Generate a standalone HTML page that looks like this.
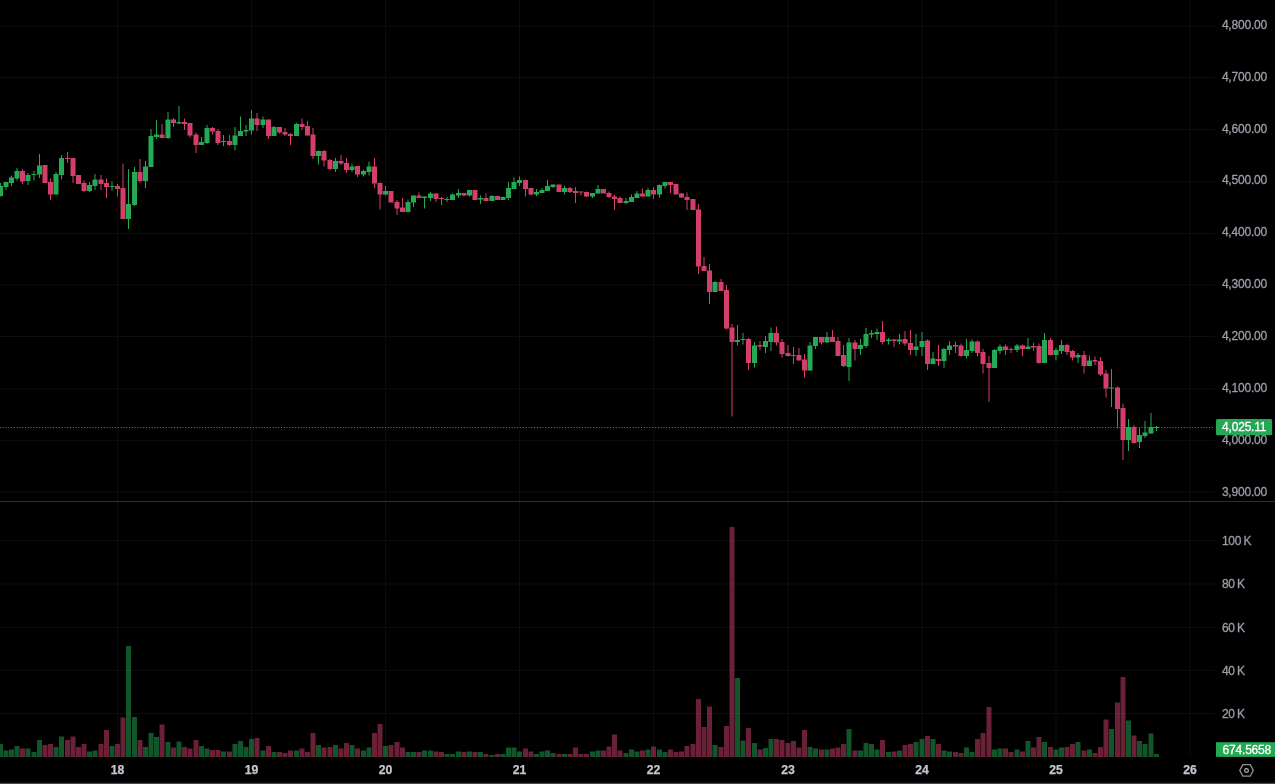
<!DOCTYPE html>
<html lang="en"><head><meta charset="utf-8"><title>Chart</title>
<style>
html,body{margin:0;padding:0;background:#000;overflow:hidden}
svg{display:block}
text{font-family:"Liberation Sans",sans-serif}
.ax{font-size:12px;letter-spacing:-0.2px;fill:#9b9ea8;stroke:#9b9ea8;stroke-width:.3px}
.tm{font-size:12.2px;font-weight:bold;fill:#c4c7cf;stroke:#c4c7cf;stroke-width:.25px}
.lb{font-size:12px;letter-spacing:-0.2px;fill:#fff;stroke:#fff;stroke-width:.3px}
</style></head>
<body>
<svg width="1275" height="784" viewBox="0 0 1275 784">
<rect width="1275" height="784" fill="#000"/>
<g fill="#0e0e0e">
<rect x="0" y="25.8" width="1215" height="1"/>
<rect x="0" y="76.96" width="1215" height="1"/>
<rect x="0" y="128.84" width="1215" height="1"/>
<rect x="0" y="181.28" width="1215" height="1"/>
<rect x="0" y="232.84" width="1215" height="1"/>
<rect x="0" y="284.34" width="1215" height="1"/>
<rect x="0" y="336" width="1215" height="1"/>
<rect x="0" y="388.34" width="1215" height="1"/>
<rect x="0" y="439.9" width="1215" height="1"/>
<rect x="0" y="491.7" width="1215" height="1"/>
<rect x="0" y="540.2" width="1215" height="1"/>
<rect x="0" y="583.46" width="1215" height="1"/>
<rect x="0" y="626.8" width="1215" height="1"/>
<rect x="0" y="669.8" width="1215" height="1"/>
<rect x="0" y="712.9" width="1215" height="1"/>
</g>
<g fill="#0c0c0c">
<rect x="117" y="0" width="1" height="757"/>
<rect x="251" y="0" width="1" height="757"/>
<rect x="385" y="0" width="1" height="757"/>
<rect x="519" y="0" width="1" height="757"/>
<rect x="653" y="0" width="1" height="757"/>
<rect x="787.5" y="0" width="1" height="757"/>
<rect x="921.5" y="0" width="1" height="757"/>
<rect x="1055.5" y="0" width="1" height="757"/>
<rect x="1189.5" y="0" width="1" height="757"/>
</g>
<rect x="0" y="501" width="1275" height="1" fill="#2a2e39"/>
<g fill="#25a954" fill-opacity="0.5">
<rect x="-2" y="744" width="5" height="13"/>
<rect x="3.5" y="750.5" width="5" height="6.5"/>
<rect x="9" y="749.5" width="5" height="7.5"/>
<rect x="14.5" y="746" width="5" height="11"/>
<rect x="25.5" y="748.5" width="5" height="8.5"/>
<rect x="31.5" y="752" width="5" height="5"/>
<rect x="37" y="740" width="5" height="17"/>
<rect x="53.5" y="747" width="5" height="10"/>
<rect x="59" y="736.5" width="5" height="20.5"/>
<rect x="87" y="751.5" width="5" height="5.5"/>
<rect x="92.5" y="750.5" width="5" height="6.5"/>
<rect x="109.5" y="746" width="5" height="11"/>
<rect x="126" y="646" width="5" height="111"/>
<rect x="132" y="717" width="5" height="40"/>
<rect x="143" y="747" width="5" height="10"/>
<rect x="148.5" y="733" width="5" height="24"/>
<rect x="154" y="737" width="5" height="20"/>
<rect x="165.5" y="742" width="5" height="15"/>
<rect x="176.5" y="741.5" width="5" height="15.5"/>
<rect x="199" y="746" width="5" height="11"/>
<rect x="204.5" y="748.5" width="5" height="8.5"/>
<rect x="221" y="751.5" width="5" height="5.5"/>
<rect x="232.5" y="744" width="5" height="13"/>
<rect x="238" y="741" width="5" height="16"/>
<rect x="243.5" y="747" width="5" height="10"/>
<rect x="249" y="739" width="5" height="18"/>
<rect x="260.5" y="750.5" width="5" height="6.5"/>
<rect x="271.5" y="752" width="5" height="5"/>
<rect x="294" y="750.5" width="5" height="6.5"/>
<rect x="316" y="745" width="5" height="12"/>
<rect x="333" y="745" width="5" height="12"/>
<rect x="349.5" y="745" width="5" height="12"/>
<rect x="361" y="750.5" width="5" height="6.5"/>
<rect x="366.5" y="747.5" width="5" height="9.5"/>
<rect x="383" y="746" width="5" height="11"/>
<rect x="405.5" y="752" width="5" height="5"/>
<rect x="411" y="752" width="5" height="5"/>
<rect x="422" y="750.5" width="5" height="6.5"/>
<rect x="428" y="750.5" width="5" height="6.5"/>
<rect x="444.5" y="754" width="5" height="3"/>
<rect x="450" y="754" width="5" height="3"/>
<rect x="456" y="751.5" width="5" height="5.5"/>
<rect x="467" y="751.5" width="5" height="5.5"/>
<rect x="478" y="752" width="5" height="5"/>
<rect x="489.5" y="755" width="5" height="2"/>
<rect x="500.5" y="754" width="5" height="3"/>
<rect x="506" y="747.5" width="5" height="9.5"/>
<rect x="511.5" y="747.5" width="5" height="9.5"/>
<rect x="517" y="751.5" width="5" height="5.5"/>
<rect x="534" y="754" width="5" height="3"/>
<rect x="539.5" y="751.5" width="5" height="5.5"/>
<rect x="545" y="750.5" width="5" height="6.5"/>
<rect x="550.5" y="753" width="5" height="4"/>
<rect x="562" y="754" width="5" height="3"/>
<rect x="590" y="751.5" width="5" height="5.5"/>
<rect x="595.5" y="750.5" width="5" height="6.5"/>
<rect x="623.5" y="753" width="5" height="4"/>
<rect x="629" y="749.5" width="5" height="7.5"/>
<rect x="634.5" y="751.5" width="5" height="5.5"/>
<rect x="645.5" y="749.5" width="5" height="7.5"/>
<rect x="657" y="749.5" width="5" height="7.5"/>
<rect x="662.5" y="752" width="5" height="5"/>
<rect x="712.5" y="745" width="5" height="12"/>
<rect x="735" y="678" width="5" height="79"/>
<rect x="740.5" y="740.5" width="5" height="16.5"/>
<rect x="752" y="743" width="5" height="14"/>
<rect x="763" y="748" width="5" height="9"/>
<rect x="768.5" y="739" width="5" height="18"/>
<rect x="807.5" y="747" width="5" height="10"/>
<rect x="813" y="748.5" width="5" height="8.5"/>
<rect x="824.5" y="749.5" width="5" height="7.5"/>
<rect x="846.5" y="729" width="5" height="28"/>
<rect x="858" y="750.5" width="5" height="6.5"/>
<rect x="863.5" y="743" width="5" height="14"/>
<rect x="869" y="744" width="5" height="13"/>
<rect x="874.5" y="749.5" width="5" height="7.5"/>
<rect x="886" y="752" width="5" height="5"/>
<rect x="897" y="750.5" width="5" height="6.5"/>
<rect x="913.5" y="742" width="5" height="15"/>
<rect x="919.5" y="739" width="5" height="18"/>
<rect x="930.5" y="739" width="5" height="18"/>
<rect x="941.5" y="750.5" width="5" height="6.5"/>
<rect x="947" y="751.5" width="5" height="5.5"/>
<rect x="964" y="747.5" width="5" height="9.5"/>
<rect x="969.5" y="752" width="5" height="5"/>
<rect x="992" y="749.5" width="5" height="7.5"/>
<rect x="997.5" y="748.5" width="5" height="8.5"/>
<rect x="1014.5" y="749.5" width="5" height="7.5"/>
<rect x="1025.5" y="741" width="5" height="16"/>
<rect x="1042" y="742" width="5" height="15"/>
<rect x="1053.5" y="749.5" width="5" height="7.5"/>
<rect x="1059" y="747.5" width="5" height="9.5"/>
<rect x="1075.5" y="742" width="5" height="15"/>
<rect x="1087" y="749.5" width="5" height="7.5"/>
<rect x="1109" y="729" width="5" height="28"/>
<rect x="1126" y="720.5" width="5" height="36.5"/>
<rect x="1137" y="741" width="5" height="16"/>
<rect x="1142.5" y="744" width="5" height="13"/>
<rect x="1148.5" y="733.5" width="5" height="23.5"/>
<rect x="1154" y="754" width="5" height="3"/>
</g>
<g fill="#d33f6b" fill-opacity="0.5">
<rect x="20" y="748.5" width="5" height="8.5"/>
<rect x="42.5" y="745" width="5" height="12"/>
<rect x="48" y="744" width="5" height="13"/>
<rect x="65" y="740" width="5" height="17"/>
<rect x="70.5" y="736.5" width="5" height="20.5"/>
<rect x="76" y="747" width="5" height="10"/>
<rect x="81.5" y="744" width="5" height="13"/>
<rect x="98.5" y="744" width="5" height="13"/>
<rect x="104" y="730" width="5" height="27"/>
<rect x="115" y="744" width="5" height="13"/>
<rect x="120.5" y="717.5" width="5" height="39.5"/>
<rect x="137.5" y="740" width="5" height="17"/>
<rect x="159.5" y="724.5" width="5" height="32.5"/>
<rect x="171" y="747.5" width="5" height="9.5"/>
<rect x="182" y="747" width="5" height="10"/>
<rect x="187.5" y="748.5" width="5" height="8.5"/>
<rect x="193.5" y="740" width="5" height="17"/>
<rect x="210" y="750" width="5" height="7"/>
<rect x="215.5" y="750" width="5" height="7"/>
<rect x="227" y="751.5" width="5" height="5.5"/>
<rect x="254.5" y="738" width="5" height="19"/>
<rect x="266" y="746" width="5" height="11"/>
<rect x="277" y="752" width="5" height="5"/>
<rect x="282.5" y="753" width="5" height="4"/>
<rect x="288" y="750.5" width="5" height="6.5"/>
<rect x="299.5" y="748.5" width="5" height="8.5"/>
<rect x="305" y="752" width="5" height="5"/>
<rect x="310.5" y="733" width="5" height="24"/>
<rect x="321.5" y="747.5" width="5" height="9.5"/>
<rect x="327.5" y="747" width="5" height="10"/>
<rect x="338.5" y="748.5" width="5" height="8.5"/>
<rect x="344" y="743" width="5" height="14"/>
<rect x="355" y="748.5" width="5" height="8.5"/>
<rect x="372" y="733" width="5" height="24"/>
<rect x="377.5" y="724" width="5" height="33"/>
<rect x="388.5" y="745" width="5" height="12"/>
<rect x="394.5" y="742" width="5" height="15"/>
<rect x="400" y="747.5" width="5" height="9.5"/>
<rect x="416.5" y="752" width="5" height="5"/>
<rect x="433.5" y="751.5" width="5" height="5.5"/>
<rect x="439" y="752" width="5" height="5"/>
<rect x="461.5" y="752" width="5" height="5"/>
<rect x="472.5" y="752" width="5" height="5"/>
<rect x="483.5" y="754" width="5" height="3"/>
<rect x="495" y="754" width="5" height="3"/>
<rect x="523" y="748.5" width="5" height="8.5"/>
<rect x="528.5" y="751.5" width="5" height="5.5"/>
<rect x="556.5" y="754" width="5" height="3"/>
<rect x="567.5" y="754" width="5" height="3"/>
<rect x="573" y="747.5" width="5" height="9.5"/>
<rect x="578.5" y="754" width="5" height="3"/>
<rect x="584" y="754" width="5" height="3"/>
<rect x="601" y="750.5" width="5" height="6.5"/>
<rect x="606.5" y="746.5" width="5" height="10.5"/>
<rect x="612" y="734.5" width="5" height="22.5"/>
<rect x="617.5" y="750.5" width="5" height="6.5"/>
<rect x="640" y="750.5" width="5" height="6.5"/>
<rect x="651" y="746.5" width="5" height="10.5"/>
<rect x="668" y="749.5" width="5" height="7.5"/>
<rect x="673.5" y="752" width="5" height="5"/>
<rect x="679" y="751.5" width="5" height="5.5"/>
<rect x="684.5" y="746" width="5" height="11"/>
<rect x="690.5" y="744" width="5" height="13"/>
<rect x="696" y="699" width="5" height="58"/>
<rect x="701.5" y="727" width="5" height="30"/>
<rect x="707" y="706.5" width="5" height="50.5"/>
<rect x="718.5" y="747" width="5" height="10"/>
<rect x="724" y="726" width="5" height="31"/>
<rect x="729.5" y="527" width="5" height="230"/>
<rect x="746" y="728" width="5" height="29"/>
<rect x="757.5" y="749.5" width="5" height="7.5"/>
<rect x="774" y="739" width="5" height="18"/>
<rect x="779.5" y="740" width="5" height="17"/>
<rect x="785.5" y="743" width="5" height="14"/>
<rect x="791" y="741" width="5" height="16"/>
<rect x="796.5" y="747.5" width="5" height="9.5"/>
<rect x="802" y="730" width="5" height="27"/>
<rect x="819" y="749.5" width="5" height="7.5"/>
<rect x="830" y="748.5" width="5" height="8.5"/>
<rect x="835.5" y="747.5" width="5" height="9.5"/>
<rect x="841" y="744" width="5" height="13"/>
<rect x="852.5" y="750.5" width="5" height="6.5"/>
<rect x="880" y="740" width="5" height="17"/>
<rect x="891.5" y="751.5" width="5" height="5.5"/>
<rect x="902.5" y="745" width="5" height="12"/>
<rect x="908" y="744" width="5" height="13"/>
<rect x="925" y="736" width="5" height="21"/>
<rect x="936" y="744" width="5" height="13"/>
<rect x="953" y="752" width="5" height="5"/>
<rect x="958.5" y="753" width="5" height="4"/>
<rect x="975" y="739" width="5" height="18"/>
<rect x="980.5" y="733" width="5" height="24"/>
<rect x="986.5" y="707" width="5" height="50"/>
<rect x="1003" y="748.5" width="5" height="8.5"/>
<rect x="1008.5" y="752" width="5" height="5"/>
<rect x="1020" y="751.5" width="5" height="5.5"/>
<rect x="1031" y="747.5" width="5" height="9.5"/>
<rect x="1036.5" y="737" width="5" height="20"/>
<rect x="1048" y="747" width="5" height="10"/>
<rect x="1064.5" y="747" width="5" height="10"/>
<rect x="1070" y="744" width="5" height="13"/>
<rect x="1081.5" y="750.5" width="5" height="6.5"/>
<rect x="1092.5" y="753" width="5" height="4"/>
<rect x="1098" y="747" width="5" height="10"/>
<rect x="1103.5" y="719.5" width="5" height="37.5"/>
<rect x="1115" y="702.5" width="5" height="54.5"/>
<rect x="1120.5" y="677" width="5" height="80"/>
<rect x="1131.5" y="735.5" width="5" height="21.5"/>
</g>
<g fill="#25a954">
<rect x="0" y="183" width="1" height="13.5"/><rect x="-2" y="186" width="5" height="10"/>
<rect x="5.5" y="182" width="1" height="8"/><rect x="3.5" y="182" width="5" height="5"/>
<rect x="11" y="175.5" width="1" height="10.5"/><rect x="9" y="177.5" width="5" height="5.5"/>
<rect x="16.5" y="168" width="1" height="12.5"/><rect x="14.5" y="171" width="5" height="7.5"/>
<rect x="27.5" y="173" width="1" height="12"/><rect x="25.5" y="175" width="5" height="6"/>
<rect x="33.5" y="171" width="1" height="9.5"/><rect x="31.5" y="174" width="5" height="1"/>
<rect x="39" y="154" width="1" height="24"/><rect x="37" y="165.5" width="5" height="9"/>
<rect x="55.5" y="172" width="1" height="22.5"/><rect x="53.5" y="174" width="5" height="20.5"/>
<rect x="61" y="155" width="1" height="24.5"/><rect x="59" y="158" width="5" height="17"/>
<rect x="89" y="182" width="1" height="10"/><rect x="87" y="185" width="5" height="6"/>
<rect x="94.5" y="174" width="1" height="16"/><rect x="92.5" y="179.5" width="5" height="6.5"/>
<rect x="111.5" y="181.5" width="1" height="9.5"/><rect x="109.5" y="186" width="5" height="1"/>
<rect x="128" y="169" width="1" height="60"/><rect x="126" y="204" width="5" height="15"/>
<rect x="134" y="167" width="1" height="39"/><rect x="132" y="172" width="5" height="33"/>
<rect x="145" y="161" width="1" height="27"/><rect x="143" y="166.5" width="5" height="14.5"/>
<rect x="150.5" y="129" width="1" height="38"/><rect x="148.5" y="136" width="5" height="31"/>
<rect x="156" y="120" width="1" height="19"/><rect x="154" y="134.5" width="5" height="2.5"/>
<rect x="167.5" y="112" width="1" height="27"/><rect x="165.5" y="119.5" width="5" height="18.5"/>
<rect x="178.5" y="106" width="1" height="18"/><rect x="176.5" y="122" width="5" height="1.5"/>
<rect x="201" y="137" width="1" height="8"/><rect x="199" y="142" width="5" height="3"/>
<rect x="206.5" y="125" width="1" height="19"/><rect x="204.5" y="128" width="5" height="15"/>
<rect x="223" y="135" width="1" height="11"/><rect x="221" y="141" width="5" height="1"/>
<rect x="234.5" y="127" width="1" height="23.5"/><rect x="232.5" y="135.5" width="5" height="9.5"/>
<rect x="240" y="116.5" width="1" height="19.5"/><rect x="238" y="131" width="5" height="5"/>
<rect x="245.5" y="125" width="1" height="11"/><rect x="243.5" y="130" width="5" height="1.5"/>
<rect x="251" y="110" width="1" height="24.5"/><rect x="249" y="118.5" width="5" height="12"/>
<rect x="262.5" y="116.5" width="1" height="11.5"/><rect x="260.5" y="119.5" width="5" height="5.5"/>
<rect x="273.5" y="126" width="1" height="10"/><rect x="271.5" y="127" width="5" height="9"/>
<rect x="296" y="123" width="1" height="13"/><rect x="294" y="124" width="5" height="12"/>
<rect x="318" y="150.5" width="1" height="14"/><rect x="316" y="151" width="5" height="5"/>
<rect x="335" y="158" width="1" height="14"/><rect x="333" y="161" width="5" height="8"/>
<rect x="351.5" y="163.5" width="1" height="8.5"/><rect x="349.5" y="166.5" width="5" height="3.5"/>
<rect x="363" y="169.5" width="1" height="7"/><rect x="361" y="171" width="5" height="3.5"/>
<rect x="368.5" y="161.5" width="1" height="14"/><rect x="366.5" y="166.5" width="5" height="5.5"/>
<rect x="385" y="186" width="1" height="9.5"/><rect x="383" y="191" width="5" height="3.5"/>
<rect x="407.5" y="199.5" width="1" height="13"/><rect x="405.5" y="202" width="5" height="10"/>
<rect x="413" y="195.5" width="1" height="11.5"/><rect x="411" y="195.5" width="5" height="7"/>
<rect x="424" y="196.5" width="1" height="12"/><rect x="422" y="196.5" width="5" height="1.5"/>
<rect x="430" y="192" width="1" height="9"/><rect x="428" y="193.5" width="5" height="4.5"/>
<rect x="446.5" y="197" width="1" height="5"/><rect x="444.5" y="199" width="5" height="1"/>
<rect x="452" y="193.5" width="1" height="6.5"/><rect x="450" y="194.5" width="5" height="5.5"/>
<rect x="458" y="189" width="1" height="9"/><rect x="456" y="193" width="5" height="2.5"/>
<rect x="469" y="190" width="1" height="6.5"/><rect x="467" y="190" width="5" height="5.5"/>
<rect x="480" y="195.5" width="1" height="8.5"/><rect x="478" y="198" width="5" height="1.5"/>
<rect x="491.5" y="195" width="1" height="6"/><rect x="489.5" y="196" width="5" height="5"/>
<rect x="502.5" y="196.5" width="1" height="3.5"/><rect x="500.5" y="197" width="5" height="3"/>
<rect x="508" y="182" width="1" height="18"/><rect x="506" y="188" width="5" height="10"/>
<rect x="513.5" y="177.5" width="1" height="11.5"/><rect x="511.5" y="182" width="5" height="7"/>
<rect x="519" y="176.5" width="1" height="9.5"/><rect x="517" y="180" width="5" height="3"/>
<rect x="536" y="189" width="1" height="7"/><rect x="534" y="192" width="5" height="2.5"/>
<rect x="541.5" y="188" width="1" height="5"/><rect x="539.5" y="190" width="5" height="3"/>
<rect x="547" y="180" width="1" height="11"/><rect x="545" y="186" width="5" height="5"/>
<rect x="552.5" y="184.5" width="1" height="3.5"/><rect x="550.5" y="184.5" width="5" height="2.5"/>
<rect x="564" y="186" width="1" height="8.5"/><rect x="562" y="188" width="5" height="4"/>
<rect x="592" y="193" width="1" height="5"/><rect x="590" y="193" width="5" height="3.5"/>
<rect x="597.5" y="185" width="1" height="8.5"/><rect x="595.5" y="189" width="5" height="4.5"/>
<rect x="625.5" y="198" width="1" height="6"/><rect x="623.5" y="201" width="5" height="2"/>
<rect x="631" y="194.5" width="1" height="7.5"/><rect x="629" y="197" width="5" height="5"/>
<rect x="636.5" y="191" width="1" height="7"/><rect x="634.5" y="193.5" width="5" height="4.5"/>
<rect x="647.5" y="188" width="1" height="8.5"/><rect x="645.5" y="190" width="5" height="6.5"/>
<rect x="659" y="184.5" width="1" height="13.5"/><rect x="657" y="185" width="5" height="9.5"/>
<rect x="664.5" y="182" width="1" height="6.5"/><rect x="662.5" y="182" width="5" height="4"/>
<rect x="714.5" y="281" width="1" height="11"/><rect x="712.5" y="282" width="5" height="10"/>
<rect x="737" y="325" width="1" height="20.5"/><rect x="735" y="340" width="5" height="2"/>
<rect x="742.5" y="333" width="1" height="11.5"/><rect x="740.5" y="339" width="5" height="1"/>
<rect x="754" y="342" width="1" height="25.5"/><rect x="752" y="345.5" width="5" height="17.5"/>
<rect x="765" y="336" width="1" height="17"/><rect x="763" y="341" width="5" height="6"/>
<rect x="770.5" y="327.5" width="1" height="23.5"/><rect x="768.5" y="333" width="5" height="9"/>
<rect x="809.5" y="342" width="1" height="28.5"/><rect x="807.5" y="345.5" width="5" height="25"/>
<rect x="815" y="337" width="1" height="12"/><rect x="813" y="337" width="5" height="9"/>
<rect x="826.5" y="332" width="1" height="10.5"/><rect x="824.5" y="337" width="5" height="5.5"/>
<rect x="848.5" y="338" width="1" height="43"/><rect x="846.5" y="342.5" width="5" height="24.5"/>
<rect x="860" y="339" width="1" height="16"/><rect x="858" y="345" width="5" height="4"/>
<rect x="865.5" y="328" width="1" height="20"/><rect x="863.5" y="334" width="5" height="12"/>
<rect x="871" y="330" width="1" height="8"/><rect x="869" y="333" width="5" height="1.5"/>
<rect x="876.5" y="328.5" width="1" height="11.5"/><rect x="874.5" y="332" width="5" height="2"/>
<rect x="888" y="338" width="1" height="6.5"/><rect x="886" y="339.5" width="5" height="1.5"/>
<rect x="899" y="334" width="1" height="10.5"/><rect x="897" y="339.5" width="5" height="2"/>
<rect x="915.5" y="334" width="1" height="22"/><rect x="913.5" y="346.5" width="5" height="3.5"/>
<rect x="921.5" y="332" width="1" height="24"/><rect x="919.5" y="341" width="5" height="6"/>
<rect x="932.5" y="352" width="1" height="12"/><rect x="930.5" y="358.5" width="5" height="5.5"/>
<rect x="943.5" y="348" width="1" height="20"/><rect x="941.5" y="349" width="5" height="12"/>
<rect x="949" y="341" width="1" height="14"/><rect x="947" y="345.5" width="5" height="4.5"/>
<rect x="966" y="339" width="1" height="19.5"/><rect x="964" y="350" width="5" height="6"/>
<rect x="971.5" y="339.5" width="1" height="13.5"/><rect x="969.5" y="341.5" width="5" height="9.5"/>
<rect x="994" y="349" width="1" height="19"/><rect x="992" y="350" width="5" height="18"/>
<rect x="999.5" y="344.5" width="1" height="9.5"/><rect x="997.5" y="346.5" width="5" height="4.5"/>
<rect x="1016.5" y="344" width="1" height="8"/><rect x="1014.5" y="345.5" width="5" height="4.5"/>
<rect x="1027.5" y="338" width="1" height="11"/><rect x="1025.5" y="346.5" width="5" height="2.5"/>
<rect x="1044" y="333" width="1" height="30"/><rect x="1042" y="340" width="5" height="23"/>
<rect x="1055.5" y="348" width="1" height="12.5"/><rect x="1053.5" y="350" width="5" height="5"/>
<rect x="1061" y="340" width="1" height="14"/><rect x="1059" y="345" width="5" height="6"/>
<rect x="1077.5" y="353" width="1" height="10"/><rect x="1075.5" y="355" width="5" height="2.5"/>
<rect x="1089" y="355.5" width="1" height="10.5"/><rect x="1087" y="360.5" width="5" height="5.5"/>
<rect x="1111" y="369" width="1" height="38"/><rect x="1109" y="387.5" width="5" height="1"/>
<rect x="1128" y="419" width="1" height="32"/><rect x="1126" y="427" width="5" height="13"/>
<rect x="1139" y="428" width="1" height="20"/><rect x="1137" y="435" width="5" height="7"/>
<rect x="1144.5" y="421" width="1" height="17"/><rect x="1142.5" y="432.5" width="5" height="3.5"/>
<rect x="1150.5" y="413" width="1" height="20.5"/><rect x="1148.5" y="427" width="5" height="6.5"/>
<rect x="1156" y="426" width="1" height="5"/><rect x="1154" y="427" width="5" height="1"/>
</g>
<g fill="#d33f6b">
<rect x="22" y="169" width="1" height="15"/><rect x="20" y="171" width="5" height="10.5"/>
<rect x="42.5" y="165" width="5" height="18"/>
<rect x="50" y="178.5" width="1" height="21.5"/><rect x="48" y="182" width="5" height="12.5"/>
<rect x="67" y="152" width="1" height="11"/><rect x="65" y="158" width="5" height="1"/>
<rect x="72.5" y="158" width="1" height="25"/><rect x="70.5" y="158" width="5" height="18"/>
<rect x="76" y="175" width="5" height="9"/>
<rect x="83.5" y="180.5" width="1" height="11.5"/><rect x="81.5" y="183" width="5" height="8"/>
<rect x="100.5" y="175" width="1" height="15"/><rect x="98.5" y="179.5" width="5" height="4.5"/>
<rect x="106" y="178.5" width="1" height="19.5"/><rect x="104" y="183" width="5" height="4"/>
<rect x="117" y="184" width="1" height="12.5"/><rect x="115" y="186" width="5" height="3"/>
<rect x="122.5" y="163.5" width="1" height="55.5"/><rect x="120.5" y="188" width="5" height="31"/>
<rect x="139.5" y="159" width="1" height="24"/><rect x="137.5" y="172" width="5" height="9"/>
<rect x="161.5" y="124" width="1" height="14"/><rect x="159.5" y="134.5" width="5" height="3.5"/>
<rect x="173" y="118" width="1" height="9"/><rect x="171" y="119.5" width="5" height="3.5"/>
<rect x="184" y="118.5" width="1" height="11.5"/><rect x="182" y="122" width="5" height="2"/>
<rect x="189.5" y="123" width="1" height="14.5"/><rect x="187.5" y="123" width="5" height="12.5"/>
<rect x="195.5" y="132.5" width="1" height="20.5"/><rect x="193.5" y="134.5" width="5" height="10.5"/>
<rect x="212" y="127" width="1" height="7.5"/><rect x="210" y="128" width="5" height="3.5"/>
<rect x="217.5" y="129" width="1" height="16"/><rect x="215.5" y="131" width="5" height="12"/>
<rect x="229" y="135" width="1" height="11"/><rect x="227" y="141" width="5" height="4"/>
<rect x="256.5" y="113" width="1" height="18"/><rect x="254.5" y="118.5" width="5" height="6.5"/>
<rect x="268" y="119.5" width="1" height="19.5"/><rect x="266" y="119.5" width="5" height="16.5"/>
<rect x="279" y="127" width="1" height="6.5"/><rect x="277" y="127" width="5" height="5.5"/>
<rect x="284.5" y="128" width="1" height="8"/><rect x="282.5" y="132" width="5" height="2.5"/>
<rect x="290" y="133" width="1" height="12"/><rect x="288" y="134" width="5" height="2"/>
<rect x="301.5" y="118.5" width="1" height="11.5"/><rect x="299.5" y="124" width="5" height="3"/>
<rect x="307" y="121" width="1" height="14.5"/><rect x="305" y="126" width="5" height="9.5"/>
<rect x="312.5" y="128" width="1" height="31"/><rect x="310.5" y="134.5" width="5" height="21.5"/>
<rect x="323.5" y="150" width="1" height="16.5"/><rect x="321.5" y="151" width="5" height="9.5"/>
<rect x="329.5" y="159" width="1" height="11"/><rect x="327.5" y="160" width="5" height="9"/>
<rect x="340.5" y="155" width="1" height="10"/><rect x="338.5" y="161" width="5" height="2.5"/>
<rect x="346" y="158" width="1" height="15"/><rect x="344" y="163" width="5" height="7"/>
<rect x="357" y="166" width="1" height="11"/><rect x="355" y="166" width="5" height="8.5"/>
<rect x="374" y="158" width="1" height="30"/><rect x="372" y="166.5" width="5" height="17"/>
<rect x="379.5" y="182.5" width="1" height="27"/><rect x="377.5" y="183" width="5" height="11.5"/>
<rect x="388.5" y="191" width="5" height="11.5"/>
<rect x="396.5" y="200" width="1" height="15"/><rect x="394.5" y="202" width="5" height="6.5"/>
<rect x="402" y="198" width="1" height="14"/><rect x="400" y="207.5" width="5" height="4.5"/>
<rect x="418.5" y="192.5" width="1" height="5.5"/><rect x="416.5" y="195.5" width="5" height="2.5"/>
<rect x="435.5" y="193.5" width="1" height="8.5"/><rect x="433.5" y="193.5" width="5" height="5.5"/>
<rect x="441" y="197" width="1" height="8"/><rect x="439" y="198" width="5" height="1"/>
<rect x="463.5" y="193" width="1" height="3.5"/><rect x="461.5" y="193" width="5" height="2.5"/>
<rect x="472.5" y="190" width="5" height="10"/>
<rect x="485.5" y="193.5" width="1" height="7.5"/><rect x="483.5" y="198" width="5" height="3"/>
<rect x="497" y="195.5" width="1" height="4.5"/><rect x="495" y="196" width="5" height="4"/>
<rect x="525" y="179.5" width="1" height="17"/><rect x="523" y="180" width="5" height="9"/>
<rect x="530.5" y="188" width="1" height="7.5"/><rect x="528.5" y="188" width="5" height="6.5"/>
<rect x="556.5" y="184.5" width="5" height="7.5"/>
<rect x="569.5" y="187" width="1" height="6"/><rect x="567.5" y="188" width="5" height="4"/>
<rect x="575" y="187" width="1" height="16"/><rect x="573" y="191" width="5" height="2"/>
<rect x="580.5" y="191.5" width="1" height="4"/><rect x="578.5" y="191.5" width="5" height="1"/>
<rect x="586" y="191.5" width="1" height="5.5"/><rect x="584" y="192" width="5" height="4.5"/>
<rect x="601" y="189" width="5" height="4.5"/>
<rect x="608.5" y="191.5" width="1" height="6.5"/><rect x="606.5" y="193" width="5" height="4"/>
<rect x="614" y="194.5" width="1" height="15.5"/><rect x="612" y="196.5" width="5" height="2.5"/>
<rect x="619.5" y="196.5" width="1" height="6.5"/><rect x="617.5" y="198" width="5" height="5"/>
<rect x="642" y="188.5" width="1" height="8"/><rect x="640" y="193.5" width="5" height="3"/>
<rect x="653" y="187" width="1" height="12"/><rect x="651" y="190" width="5" height="4.5"/>
<rect x="670" y="182" width="1" height="11"/><rect x="668" y="182" width="5" height="3"/>
<rect x="673.5" y="184" width="5" height="10.5"/>
<rect x="681" y="193" width="1" height="5"/><rect x="679" y="193.5" width="5" height="4"/>
<rect x="686.5" y="192.5" width="1" height="17.5"/><rect x="684.5" y="197" width="5" height="3"/>
<rect x="690.5" y="199" width="5" height="11"/>
<rect x="698" y="204" width="1" height="70"/><rect x="696" y="209.5" width="5" height="57"/>
<rect x="703.5" y="257" width="1" height="14"/><rect x="701.5" y="266" width="5" height="5"/>
<rect x="709" y="264" width="1" height="40"/><rect x="707" y="270.5" width="5" height="21.5"/>
<rect x="720.5" y="279" width="1" height="12"/><rect x="718.5" y="282" width="5" height="9"/>
<rect x="726" y="285" width="1" height="44.5"/><rect x="724" y="290" width="5" height="38.5"/>
<rect x="731.5" y="324" width="1" height="92.5"/><rect x="729.5" y="327.5" width="5" height="14.5"/>
<rect x="748" y="338" width="1" height="32"/><rect x="746" y="339" width="5" height="24"/>
<rect x="759.5" y="341" width="1" height="9"/><rect x="757.5" y="345" width="5" height="1.5"/>
<rect x="776" y="326.5" width="1" height="19"/><rect x="774" y="333" width="5" height="9.5"/>
<rect x="781.5" y="339" width="1" height="18.5"/><rect x="779.5" y="342" width="5" height="12"/>
<rect x="787.5" y="345" width="1" height="11.5"/><rect x="785.5" y="353" width="5" height="3"/>
<rect x="793" y="347" width="1" height="17"/><rect x="791" y="355" width="5" height="1"/>
<rect x="798.5" y="348" width="1" height="12.5"/><rect x="796.5" y="355" width="5" height="5.5"/>
<rect x="804" y="354" width="1" height="23.5"/><rect x="802" y="359.5" width="5" height="11"/>
<rect x="821" y="337" width="1" height="7.5"/><rect x="819" y="337" width="5" height="5.5"/>
<rect x="832" y="330" width="1" height="12"/><rect x="830" y="337" width="5" height="5"/>
<rect x="837.5" y="337" width="1" height="19"/><rect x="835.5" y="341" width="5" height="15"/>
<rect x="843" y="345" width="1" height="22"/><rect x="841" y="355" width="5" height="11"/>
<rect x="854.5" y="340" width="1" height="20.5"/><rect x="852.5" y="342.5" width="5" height="6.5"/>
<rect x="882" y="321" width="1" height="23.5"/><rect x="880" y="332" width="5" height="10"/>
<rect x="893.5" y="339" width="1" height="8"/><rect x="891.5" y="339.5" width="5" height="1.5"/>
<rect x="904.5" y="331" width="1" height="15"/><rect x="902.5" y="339" width="5" height="4.5"/>
<rect x="910" y="330" width="1" height="25"/><rect x="908" y="343" width="5" height="7"/>
<rect x="927" y="339.5" width="1" height="30.5"/><rect x="925" y="340.5" width="5" height="23.5"/>
<rect x="938" y="345" width="1" height="21"/><rect x="936" y="359" width="5" height="2"/>
<rect x="955" y="341.5" width="1" height="11.5"/><rect x="953" y="345" width="5" height="1.5"/>
<rect x="960.5" y="343.5" width="1" height="13"/><rect x="958.5" y="345.5" width="5" height="10.5"/>
<rect x="977" y="340.5" width="1" height="16"/><rect x="975" y="341.5" width="5" height="11.5"/>
<rect x="982.5" y="349" width="1" height="24.5"/><rect x="980.5" y="352" width="5" height="12"/>
<rect x="988.5" y="356" width="1" height="46"/><rect x="986.5" y="363" width="5" height="5"/>
<rect x="1005" y="344.5" width="1" height="10.5"/><rect x="1003" y="346.5" width="5" height="3.5"/>
<rect x="1010.5" y="347.5" width="1" height="5.5"/><rect x="1008.5" y="349" width="5" height="1"/>
<rect x="1022" y="344.5" width="1" height="11.5"/><rect x="1020" y="345.5" width="5" height="3.5"/>
<rect x="1033" y="343" width="1" height="8"/><rect x="1031" y="346" width="5" height="1.5"/>
<rect x="1038.5" y="343.5" width="1" height="20"/><rect x="1036.5" y="346" width="5" height="17"/>
<rect x="1050" y="338" width="1" height="17.5"/><rect x="1048" y="340" width="5" height="15"/>
<rect x="1066.5" y="344" width="1" height="11"/><rect x="1064.5" y="345" width="5" height="7"/>
<rect x="1072" y="350" width="1" height="10.5"/><rect x="1070" y="351" width="5" height="6.5"/>
<rect x="1083.5" y="351" width="1" height="22.5"/><rect x="1081.5" y="355" width="5" height="11"/>
<rect x="1094.5" y="356.5" width="1" height="8.5"/><rect x="1092.5" y="360" width="5" height="1.5"/>
<rect x="1100" y="357" width="1" height="19"/><rect x="1098" y="361" width="5" height="13.5"/>
<rect x="1105.5" y="370" width="1" height="27.5"/><rect x="1103.5" y="373.5" width="5" height="15"/>
<rect x="1117" y="386.5" width="1" height="42"/><rect x="1115" y="387.5" width="5" height="21.5"/>
<rect x="1122.5" y="403.5" width="1" height="56.5"/><rect x="1120.5" y="408" width="5" height="32"/>
<rect x="1133.5" y="425" width="1" height="18.5"/><rect x="1131.5" y="427" width="5" height="16"/>
</g>
<line x1="-0.26" y1="427.5" x2="1214" y2="427.5" stroke="#25a954" stroke-width="1" stroke-dasharray="1 1.8125"/>
<g style="will-change:transform">
<text class="ax" x="1221.9" y="28.9">4,800.00</text>
<text class="ax" x="1221.9" y="80.9">4,700.00</text>
<text class="ax" x="1221.9" y="132.8">4,600.00</text>
<text class="ax" x="1221.9" y="184.1">4,500.00</text>
<text class="ax" x="1221.9" y="236">4,400.00</text>
<text class="ax" x="1221.9" y="288.1">4,300.00</text>
<text class="ax" x="1221.9" y="340">4,200.00</text>
<text class="ax" x="1221.9" y="391.7">4,100.00</text>
<text class="ax" x="1221.9" y="443.6">4,000.00</text>
<text class="ax" x="1221.9" y="495.5">3,900.00</text>
<text class="ax" x="1221.9" y="545.1">100<tspan dx="2.2">K</tspan></text>
<text class="ax" x="1221.9" y="588.35">80<tspan dx="2.2">K</tspan></text>
<text class="ax" x="1221.9" y="631.7">60<tspan dx="2.2">K</tspan></text>
<text class="ax" x="1221.9" y="674.85">40<tspan dx="2.2">K</tspan></text>
<text class="ax" x="1221.9" y="717.85">20<tspan dx="2.2">K</tspan></text>
<rect x="1216" y="419.1" width="56.1" height="16.1" rx="1.5" fill="#24a853"/>
<text class="lb" x="1222.1" y="431">4,025.11</text>
<rect x="1216" y="742.2" width="59" height="14.7" fill="#24a853"/>
<text class="lb" x="1222.6" y="753.7">674.5658</text>
<text class="tm" x="117.5" y="774.1" text-anchor="middle">18</text>
<text class="tm" x="251.5" y="774.1" text-anchor="middle">19</text>
<text class="tm" x="385.5" y="774.1" text-anchor="middle">20</text>
<text class="tm" x="519.5" y="774.1" text-anchor="middle">21</text>
<text class="tm" x="653.5" y="774.1" text-anchor="middle">22</text>
<text class="tm" x="788" y="774.1" text-anchor="middle">23</text>
<text class="tm" x="922" y="774.1" text-anchor="middle">24</text>
<text class="tm" x="1056" y="774.1" text-anchor="middle">25</text>
<text class="tm" x="1190" y="774.1" text-anchor="middle">26</text>
</g>
<g fill="none" stroke-linejoin="round"><path d="M1239.8 770.4L1242.9 764.6H1250.2L1253.3 770.4L1250.2 776.2H1242.9Z" stroke="#909090" stroke-width="1.3"/><circle cx="1246.5" cy="770.5" r="1.9" stroke="#b8b8b8" stroke-width="1.1"/></g>
<rect x="0" y="782.8" width="1275" height="1.2" fill="#484848"/>
</svg>
</body></html>
